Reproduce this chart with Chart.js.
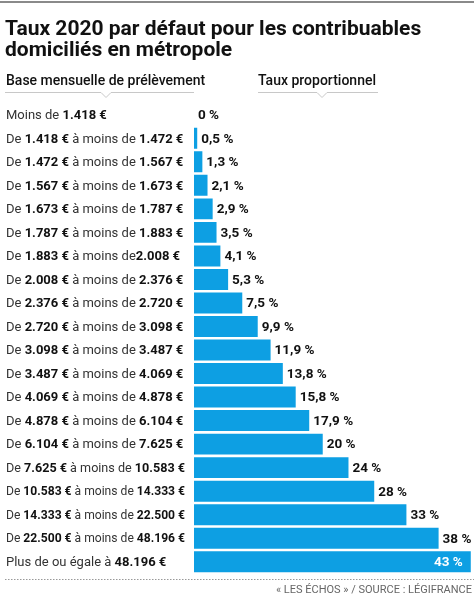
<!DOCTYPE html>
<html>
<head>
<meta charset="utf-8">
<script src="https://cdn.jsdelivr.net/npm/chart.js@4"></script>
<style>
  html, body { margin: 0; padding: 0; background: #fff; }
  #wrap { width: 474px; height: 597px; position: relative; }
</style>
</head>
<body>
<div id="wrap"><canvas id="tauxChart"></canvas></div>
<script>
// Tranches de base mensuelle (bornes en euros)
const bornesBasses = [null, '1.418', '1.472', '1.567', '1.673', '1.787', '1.883', '2.008', '2.376', '2.720',
  '3.098', '3.487', '4.069', '4.878', '6.104', '7.625', '10.583', '14.333', '22.500', '48.196'];
const bornesHautes = ['1.418', '1.472', '1.567', '1.673', '1.787', '1.883', '2.008', '2.376', '2.720', '3.098',
  '3.487', '4.069', '4.878', '6.104', '7.625', '10.583', '14.333', '22.500', '48.196', null];

// Taux proportionnel (%)
const taux = [0, 0.5, 1.3, 2.1, 2.9, 3.5, 4.1, 5.3, 7.5, 9.9, 11.9, 13.8, 15.8, 17.9, 20, 24, 28, 33, 38, 43];

const titre = ['Taux 2020 par défaut pour les contribuables', 'domiciliés en métropole'];
const enteteGauche = 'Base mensuelle de prélèvement';
const enteteDroite = 'Taux proportionnel';
const source = '« LES ÉCHOS » / SOURCE : LÉGIFRANCE';

const FONT = 'Roboto, "Liberation Sans", sans-serif';
const BLEU = '#0d9fe3';

// Build the pieces of each row label (normal / bold)
function morceaux(i) {
  const bas = bornesBasses[i], haut = bornesHautes[i];
  if (bas === null) return [['Moins de ', false], [haut + ' €', true]];
  if (haut === null) return [['Plus de ou égale à ', false], [bas + ' €', true]];
  // the original has no space before 2.008
  const liaison = haut === '2.008' ? ' à moins de' : ' à moins de ';
  return [['De ', false], [bas + ' €', true], [liaison, false], [haut + ' €', true]];
}

const categories = taux.map((_, i) => morceaux(i).map(m => m[0]).join(''));

function formatTaux(v) {
  return String(v).replace('.', ',') + ' %';
}

// Function to draw text made of normal + bold pieces, squeezed to fit maxW
function texteRiche(ctx, parts, x, y, size, maxW) {
  let total = 0;
  parts.forEach(([txt, gras]) => {
    ctx.font = (gras ? '700 ' : '400 ') + size + 'px ' + FONT;
    total += ctx.measureText(txt).width;
  });
  const k = Math.min(1, maxW / total);
  ctx.save();
  ctx.translate(x, y);
  ctx.scale(k, 1);
  let cx = 0;
  parts.forEach(([txt, gras]) => {
    ctx.font = (gras ? '700 ' : '400 ') + size + 'px ' + FONT;
    ctx.fillStyle = gras ? '#111' : '#333';
    ctx.fillText(txt, cx, 0);
    cx += ctx.measureText(txt).width;
  });
  ctx.restore();
}

// Underline with a little downward notch under the column headers
function filet(ctx, x1, x2, y, notch) {
  ctx.strokeStyle = '#c8c8c8';
  ctx.lineWidth = 1;
  ctx.beginPath();
  ctx.moveTo(x1, y);
  ctx.lineTo(notch - 5, y);
  ctx.lineTo(notch, y + 5);
  ctx.lineTo(notch + 5, y);
  ctx.lineTo(x2, y);
  ctx.stroke();
}

const decor = {
  id: 'decor',
  afterDraw(chart) {
    const ctx = chart.ctx;
    const yScale = chart.scales.y;
    const meta = chart.getDatasetMeta(0);
    ctx.save();

    // top rule
    ctx.fillStyle = '#8a8a8a';
    ctx.fillRect(0, 1, 474, 2);

    // title
    ctx.fillStyle = '#111';
    ctx.textBaseline = 'alphabetic';
    ctx.textAlign = 'left';
    ctx.font = '700 21px ' + FONT;
    ctx.fillText(titre[0], 5, 35);
    ctx.fillText(titre[1], 5, 56);

    // column headers
    ctx.font = '500 14px ' + FONT;
    ctx.fillStyle = '#111';
    ctx.fillText(enteteGauche, 6, 85);
    ctx.fillText(enteteDroite, 258, 85);
    filet(ctx, 5, 194, 92.5, 106);
    filet(ctx, 258, 378, 92.5, 322);

    // row labels
    ctx.textBaseline = 'middle';
    categories.forEach((_, i) => {
      texteRiche(ctx, morceaux(i), 6, yScale.getPixelForValue(i) + 1, 13, 179);
    });

    // value labels
    ctx.font = '700 13.5px ' + FONT;
    meta.data.forEach((bar, i) => {
      const y = bar.y + 1;
      if (i === taux.length - 1) {
        ctx.fillStyle = '#fff';
        ctx.textAlign = 'right';
        ctx.fillText(formatTaux(taux[i]), bar.x - 8, y);
      } else {
        ctx.fillStyle = '#111';
        ctx.textAlign = 'left';
        ctx.fillText(formatTaux(taux[i]), bar.x + 4, y);
      }
    });

    // dotted rule + source
    ctx.fillStyle = '#999';
    for (let x = 5; x < 474; x += 3) ctx.fillRect(x, 579, 1.5, 1);
    ctx.font = '400 11px ' + FONT;
    ctx.fillStyle = '#666';
    ctx.textAlign = 'right';
    ctx.textBaseline = 'alphabetic';
    ctx.fillText(source, 472, 593);

    ctx.restore();
  }
};

window.onload = () => {
  const canvas = document.getElementById('tauxChart');
  canvas.width = 474;
  canvas.height = 597;
  new Chart(canvas.getContext('2d'), {
    type: 'bar',
    data: {
      labels: categories,
      datasets: [{
        data: taux,
        backgroundColor: BLEU,
        borderWidth: 0,
        barPercentage: 0.89,
        categoryPercentage: 1
      }]
    },
    options: {
      indexAxis: 'y',
      responsive: false,
      animation: false,
      layout: { padding: { left: 194, right: 0, top: 103, bottom: 23.5 } },
      plugins: { legend: { display: false }, tooltip: { enabled: false } },
      scales: {
        x: { display: false, min: 0, max: 43.5 },
        y: { display: false }
      }
    },
    plugins: [decor]
  });
};
</script>
</body>
</html>
